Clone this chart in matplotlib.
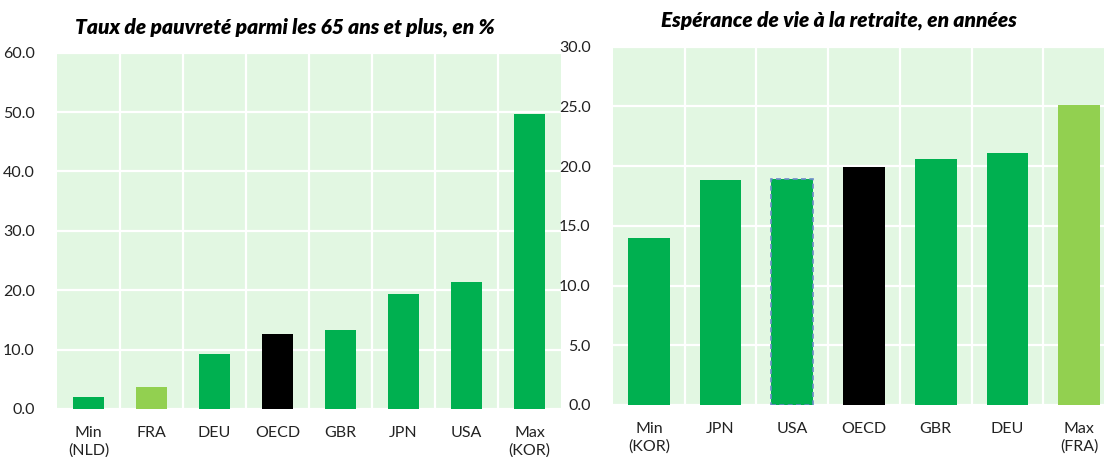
import numpy as np
import matplotlib
matplotlib.use('Agg')
from matplotlib import pyplot as plt

# Left chart: poverty rate among 65+
pov_labels = ['Min\n(NLD)', 'FRA', 'DEU', 'OECD', 'GBR', 'JPN', 'USA', 'Max\n(KOR)']
pov_values = [2.0, 3.7, 9.3, 12.7, 13.3, 19.3, 21.4, 49.6]
pov_ticks = [0, 10, 20, 30, 40, 50, 60]

# Right chart: life expectancy at retirement
life_labels = ['Min\n(KOR)', 'JPN', 'USA', 'OECD', 'GBR', 'DEU', 'Max\n(FRA)']
life_values = [14.0, 18.8, 18.95, 19.9, 20.6, 21.1, 25.1]
life_ticks = [0, 5, 10, 15, 20, 25, 30]

GREEN = '#00B050'
LIGHT = '#92D050'
BG = '#E2F7E2'

plt.rcParams['font.family'] = ['Lato', 'DejaVu Sans']

W, H = 1104, 457
fig = plt.figure(figsize=(W / 100, H / 100), dpi=100)


def bar_colors(labels):
    cols = []
    for lab in labels:
        if lab == 'OECD':
            cols.append('black')
        elif 'FRA' in lab:
            cols.append(LIGHT)
        else:
            cols.append(GREEN)
    return cols


def draw(rect, labels, values, ticks, width, title, title_x, title_y):
    ax = fig.add_axes(rect)
    x = np.arange(len(labels))
    bars = ax.bar(x, values, width=width, color=bar_colors(labels), zorder=3)
    ax.set_facecolor(BG)
    ax.set_xlim(-0.5, len(labels) - 0.5)
    ax.set_ylim(ticks[0], ticks[-1])
    ax.set_yticks(ticks)
    ax.set_yticklabels(['%.1f' % t for t in ticks], fontsize=11.5, color='#222222')
    ax.set_xticks(x)
    ax.set_xticklabels(labels, fontsize=11.5, color='#222222', linespacing=1.35)
    ax.set_xticks(np.arange(len(labels) - 1) + 0.5, minor=True)
    ax.tick_params(axis='both', which='both', length=0)
    ax.tick_params(axis='y', pad=16)
    ax.tick_params(axis='x', pad=12)
    ax.grid(axis='y', which='major', color='white', linewidth=1.6, zorder=1)
    ax.grid(axis='x', which='minor', color='white', linewidth=1.6, zorder=1)
    ax.grid(axis='x', which='major', visible=False)
    for s in ax.spines.values():
        s.set_visible(False)
    ax.set_axisbelow(True)
    fig.text(title_x, 1 - title_y / H, title, ha='center', va='center', fontsize=15,
             fontweight='heavy', fontstyle='italic')
    return ax, bars


axl, _ = draw([57 / W, (H - 409) / H, (561 - 57) / W, (409 - 52.7) / H],
              pov_labels, pov_values, pov_ticks, 0.5,
              'Taux de pauvreté parmi les 65 ans et plus, en %', 285 / W, 27)

axr, bars_r = draw([613 / W, (H - 405) / H, (1115 - 613) / W, (405 - 46.7) / H],
                   life_labels, life_values, life_ticks, 0.58,
                   'Espérance de vie à la retraite, en années', 839 / W, 20)

# dashed outline on the USA bar
usa = bars_r[life_labels.index('USA')]
usa.set_edgecolor('#6A8CC8')
usa.set_linestyle((0, (3, 2)))
usa.set_linewidth(1.2)

fig.savefig('out.png', dpi=100)
